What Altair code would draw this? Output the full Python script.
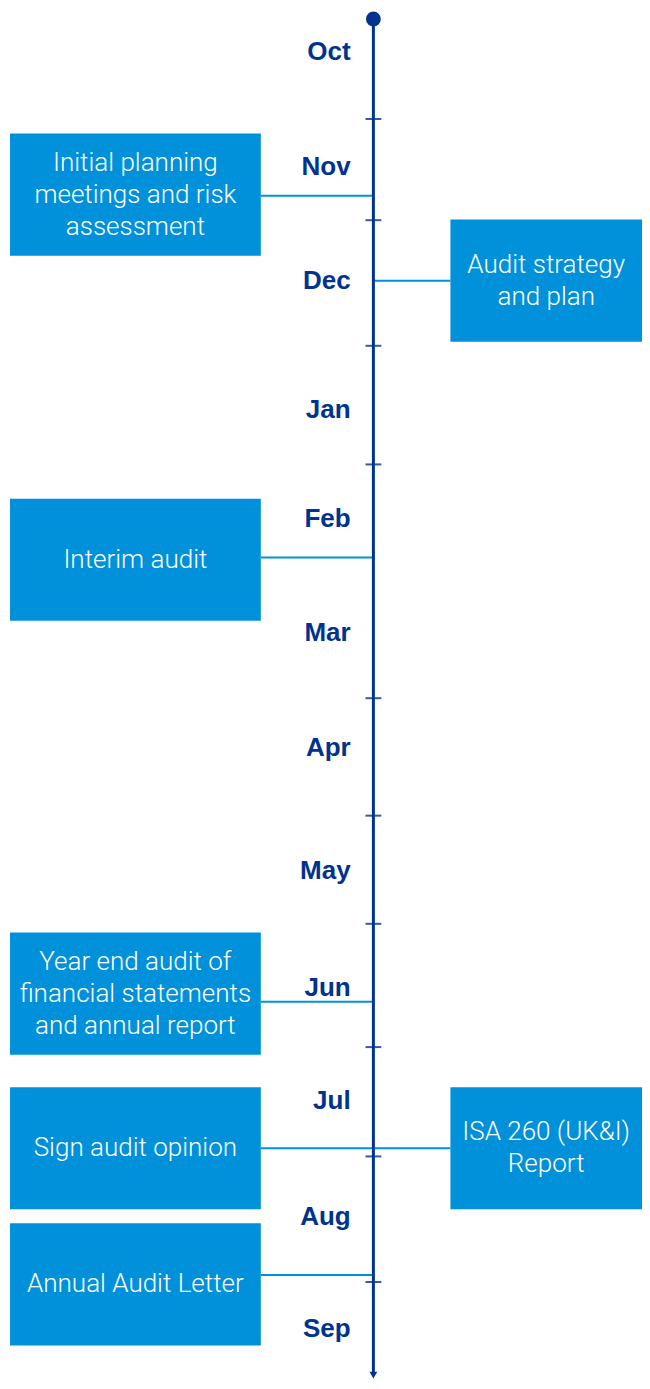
import altair as alt
import pandas as pd

# ---- data (timeline position in months from 1 October) ----
months = ["Oct", "Nov", "Dec", "Jan", "Feb", "Mar", "Apr", "May", "Jun", "Jul", "Aug", "Sep"]
month_pos = [0.42, 1.41, 2.39, 3.50, 4.44, 5.42, 6.41, 7.47, 8.47, 9.44, 10.44, 11.40]
tick_pos = [1.0, 1.87, 2.95, 3.97, 5.98, 6.99, 7.92, 8.98, 9.92, 11.0]

event_text = [
    "Initial planning\nmeetings and risk\nassessment",
    "Audit strategy\nand plan",
    "Interim audit",
    "Year end audit of\nfinancial statements\nand annual report",
    "Sign audit opinion",
    "ISA 260 (UK&I)\nReport",
    "Annual Audit Letter",
]
event_side = ["left", "right", "left", "left", "left", "right", "left"]
event_mid = [1.65, 2.39, 4.79, 8.52, 9.85, 9.85, 11.02]
event_link = [1.66, 2.39, 4.77, 8.59, 9.85, 9.85, 10.94]

timeline_start = 0.14
timeline_end = 11.80

# ---- styles / layout ----
DARK = "#00338D"
BLUE = "#0091DA"
AXIS_X = 378
LEFT_BOX = (10, 264)
RIGHT_BOX = (456, 650)
BOX_H = 1.05       # months
LINE_H = 0.275     # months per text line

xs = alt.Scale(domain=[8, 650], nice=False, zero=False)
ys = alt.Scale(domain=[0.0456, 11.851], reverse=True, nice=False, zero=False)

rows, text_rows = [], []
for t, s, m, l in zip(event_text, event_side, event_mid, event_link):
    bx = LEFT_BOX if s == "left" else RIGHT_BOX
    rows.append(dict(
        x=bx[0], x2=bx[1], y=m - BOX_H / 2, y2=m + BOX_H / 2, link=l,
        lx=bx[1] if s == "left" else AXIS_X,
        lx2=AXIS_X if s == "left" else bx[0],
    ))
    lines = t.split("\n")
    n = len(lines)
    for i, ln in enumerate(lines):
        text_rows.append(dict(text=ln, xc=(bx[0] + bx[1]) / 2,
                              y=m + (i - (n - 1) / 2) * LINE_H))
ev = pd.DataFrame(rows)
tx = pd.DataFrame(text_rows)

mdf = pd.DataFrame({"month": months, "pos": month_pos, "x": 355})
tdf = pd.DataFrame({"pos": tick_pos, "x": AXIS_X - 8, "x2": AXIS_X + 8})
line_df = pd.DataFrame({"x": [AXIS_X], "y": [timeline_start], "y2": [timeline_end]})

X = lambda f: alt.X(f, type="quantitative", scale=xs, axis=None)
Y = lambda f: alt.Y(f, type="quantitative", scale=ys, axis=None)

connectors = alt.Chart(ev).mark_rule(color=BLUE, strokeWidth=2).encode(
    x=X("lx"), x2="lx2", y=Y("link"))

boxes = alt.Chart(ev).mark_rect(color=BLUE).encode(
    x=X("x"), x2="x2", y=Y("y"), y2="y2")

box_text = alt.Chart(tx).mark_text(
    color="white", font="Roboto", fontWeight=300, fontSize=26,
    align="center", baseline="middle").encode(
    x=X("xc"), y=Y("y"), text="text:N")

axis_line = alt.Chart(line_df).mark_rule(color=DARK, strokeWidth=3).encode(
    x=X("x"), y=Y("y"), y2="y2")

ticks = alt.Chart(tdf).mark_rule(color=DARK, strokeWidth=2, opacity=0.8).encode(
    x=X("x"), x2="x2", y=Y("pos"))

labels = alt.Chart(mdf).mark_text(
    color=DARK, font="Liberation Sans", fontSize=26, fontWeight="bold",
    align="right", baseline="middle").encode(
    x=X("x"), y=Y("pos"), text="month:N")

dot = alt.Chart(line_df).mark_point(
    shape="circle", filled=True, size=220, color=DARK, opacity=1).encode(
    x=X("x"), y=Y("y"))

arrow = alt.Chart(line_df).mark_point(
    shape="triangle-down", filled=True, size=60, color=DARK, opacity=1).encode(
    x=X("x"), y=Y("y2"))

chart = alt.layer(connectors, boxes, box_text, axis_line, ticks, labels, dot, arrow).properties(
    width=634, height=1373, padding=0,
    autosize=alt.AutoSizeParams(type="fit", contains="padding"),
    background="white",
).configure_view(stroke=None)

chart.save("out.html", embed_options={"renderer": "svg", "actions": False})
